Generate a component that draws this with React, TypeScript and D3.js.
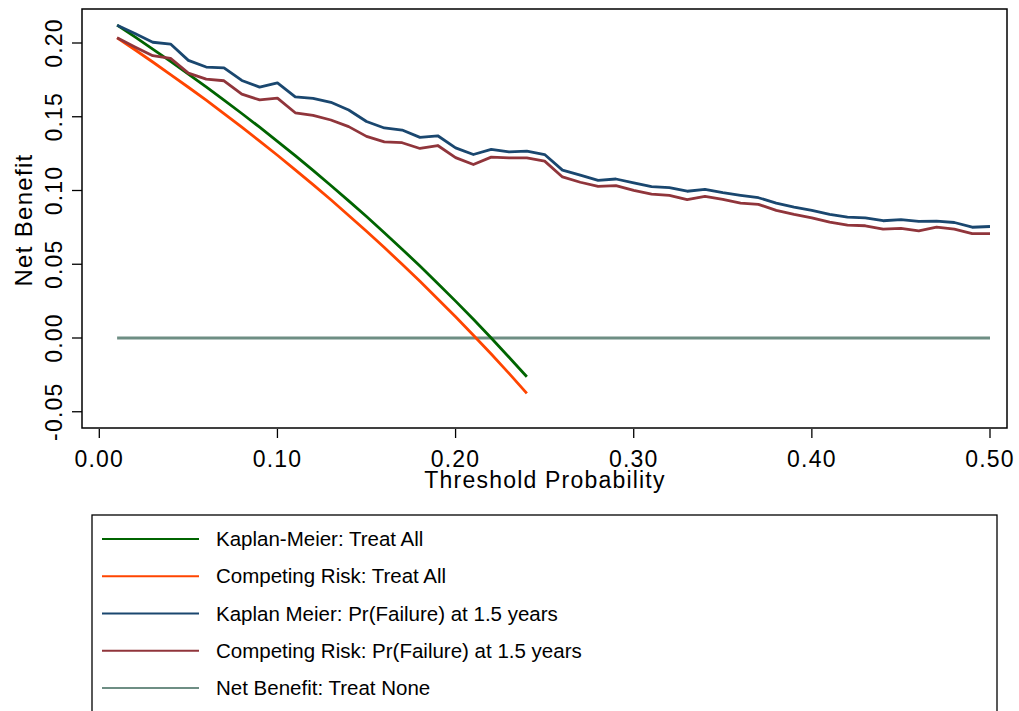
import React from "react";
import * as d3 from "d3";

const thresholds = [
  0.01, 0.02, 0.03, 0.04, 0.05, 0.06, 0.07, 0.08, 0.09, 0.10,
  0.11, 0.12, 0.13, 0.14, 0.15, 0.16, 0.17, 0.18, 0.19, 0.20,
  0.21, 0.22, 0.23, 0.24, 0.25, 0.26, 0.27, 0.28, 0.29, 0.30,
  0.31, 0.32, 0.33, 0.34, 0.35, 0.36, 0.37, 0.38, 0.39, 0.40,
  0.41, 0.42, 0.43, 0.44, 0.45, 0.46, 0.47, 0.48, 0.49, 0.50,
];

// Kaplan-Meier: Treat All (t = 0.01 .. 0.24)
const kmTreatAll = [
  0.2121, 0.2041, 0.1959, 0.1875, 0.1789, 0.1702, 0.1613, 0.1522, 0.1429, 0.1333,
  0.1236, 0.1136, 0.1034, 0.0930, 0.0824, 0.0714, 0.0602, 0.0488, 0.0370, 0.0250,
  0.0127, 0.0000, -0.0130, -0.0263,
];

// Competing Risk: Treat All (t = 0.01 .. 0.24)
const crTreatAll = [
  0.2035, 0.1954, 0.1871, 0.1786, 0.1700, 0.1612, 0.1521, 0.1429, 0.1335, 0.1239,
  0.1140, 0.1040, 0.0937, 0.0831, 0.0724, 0.0613, 0.0500, 0.0384, 0.0265, 0.0144,
  0.0019, -0.0109, -0.0240, -0.0375,
];

// Kaplan Meier: Pr(Failure) at 1.5 years
const kmModel = [
  0.2121, 0.2064, 0.2005, 0.1993, 0.1882, 0.1837, 0.1832, 0.1746, 0.1701, 0.1730,
  0.1635, 0.1624, 0.1598, 0.1546, 0.1468, 0.1424, 0.1410, 0.1360, 0.1371, 0.1289,
  0.1244, 0.1279, 0.1262, 0.1267, 0.1244, 0.1138, 0.1104, 0.1069, 0.1078, 0.1051,
  0.1026, 0.1019, 0.0995, 0.1007, 0.0985, 0.0967, 0.0951, 0.0915, 0.0888, 0.0865,
  0.0838, 0.0820, 0.0815, 0.0795, 0.0802, 0.0790, 0.0792, 0.0783, 0.0751, 0.0756,
];

// Competing Risk: Pr(Failure) at 1.5 years
const crModel = [
  0.2035, 0.1973, 0.1914, 0.1896, 0.1796, 0.1755, 0.1744, 0.1653, 0.1614, 0.1626,
  0.1527, 0.1509, 0.1478, 0.1433, 0.1367, 0.1330, 0.1324, 0.1285, 0.1305, 0.1223,
  0.1176, 0.1226, 0.1221, 0.1221, 0.1199, 0.1092, 0.1056, 0.1028, 0.1033, 0.1001,
  0.0976, 0.0967, 0.0938, 0.0960, 0.0940, 0.0915, 0.0906, 0.0865, 0.0838, 0.0815,
  0.0785, 0.0765, 0.0761, 0.0738, 0.0743, 0.0727, 0.0751, 0.0738, 0.0708, 0.0708,
];

// Net Benefit: Treat None
const treatNone = [
  0, 0, 0, 0, 0, 0, 0, 0, 0, 0,
  0, 0, 0, 0, 0, 0, 0, 0, 0, 0,
  0, 0, 0, 0, 0, 0, 0, 0, 0, 0,
  0, 0, 0, 0, 0, 0, 0, 0, 0, 0,
  0, 0, 0, 0, 0, 0, 0, 0, 0, 0,
];

const xTicks = [0, 0.1, 0.2, 0.3, 0.4, 0.5];
const yTicks = [-0.05, 0, 0.05, 0.1, 0.15, 0.2];

const seriesNames = [
  "Kaplan-Meier: Treat All",
  "Competing Risk: Treat All",
  "Kaplan Meier: Pr(Failure) at 1.5 years",
  "Competing Risk: Pr(Failure) at 1.5 years",
  "Net Benefit: Treat None",
];
const seriesColors = ["#006400", "#ff4500", "#1a476f", "#90353b", "#6e8e84"];
const seriesValues = [kmTreatAll, crTreatAll, kmModel, crModel, treatNone];

const W = 1019;
const H = 711;
const frame = { left: 82, top: 9, right: 1007, bottom: 428 };

export default function App() {
  const x = d3.scaleLinear().domain([0, 0.5]).range([99.3, 990]);
  const y = d3.scaleLinear().domain([-0.05, 0.2]).range([411.75, 43]);

  const line = d3
    .line<[number, number]>()
    .x((d) => x(d[0]))
    .y((d) => y(d[1]));

  const axisFont = "'Liberation Sans', Arial, sans-serif";
  const legendY = d3.scalePoint<number>().domain([0, 1, 2, 3, 4]).range([539, 688]);

  // draw order: treat none first, then others
  const order = [4, 0, 1, 2, 3];

  return (
    <svg
      width={W}
      height={H}
      style={{ position: "absolute", left: 0, top: 0, background: "#fff" }}
      fontFamily={axisFont}
    >
      <rect x={0} y={0} width={W} height={H} fill="#fff" />
      {order.map((i) => {
        const vals = seriesValues[i];
        const pts: [number, number][] = vals.map((v, k) => [thresholds[k], v]);
        return (
          <path
            key={i}
            d={line(pts) || ""}
            fill="none"
            stroke={seriesColors[i]}
            strokeWidth={2.8}
            strokeLinejoin="round"
          />
        );
      })}
      <rect
        x={frame.left}
        y={frame.top}
        width={frame.right - frame.left}
        height={frame.bottom - frame.top}
        fill="none"
        stroke="#000"
        strokeWidth={1.5}
      />
      {yTicks.map((t) => (
        <g key={"y" + t}>
          <line x1={72} x2={frame.left} y1={y(t)} y2={y(t)} stroke="#000" strokeWidth={1.3} />
          <text
            transform={`translate(62,${y(t)}) rotate(-90)`}
            textAnchor="middle"
            fontSize={23}
            letterSpacing={1.2}
            fill="#000"
          >
            {t.toFixed(2)}
          </text>
        </g>
      ))}
      {xTicks.map((t) => (
        <g key={"x" + t}>
          <line x1={x(t)} x2={x(t)} y1={429} y2={438} stroke="#000" strokeWidth={1.3} />
          <text x={x(t)} y={467} textAnchor="middle" fontSize={23} letterSpacing={1.2} fill="#000">
            {t.toFixed(2)}
          </text>
        </g>
      ))}
      <text x={545} y={488} textAnchor="middle" fontSize={23} letterSpacing={1.2} fill="#000">
        Threshold Probability
      </text>
      <text
        transform={`translate(32,220) rotate(-90)`}
        textAnchor="middle"
        fontSize={24}
        letterSpacing={1.3}
        fill="#000"
      >
        Net Benefit
      </text>
      <rect x={92} y={515} width={905} height={220} fill="#fff" stroke="#000" strokeWidth={1.3} />
      {seriesNames.map((name, i) => (
        <g key={name}>
          <line
            x1={102}
            x2={199}
            y1={legendY(i)}
            y2={legendY(i)}
            stroke={seriesColors[i]}
            strokeWidth={2.2}
          />
          <text x={216} y={(legendY(i) || 0) + 7} fontSize={20.5} fill="#000">
            {name}
          </text>
        </g>
      ))}
    </svg>
  );
}
